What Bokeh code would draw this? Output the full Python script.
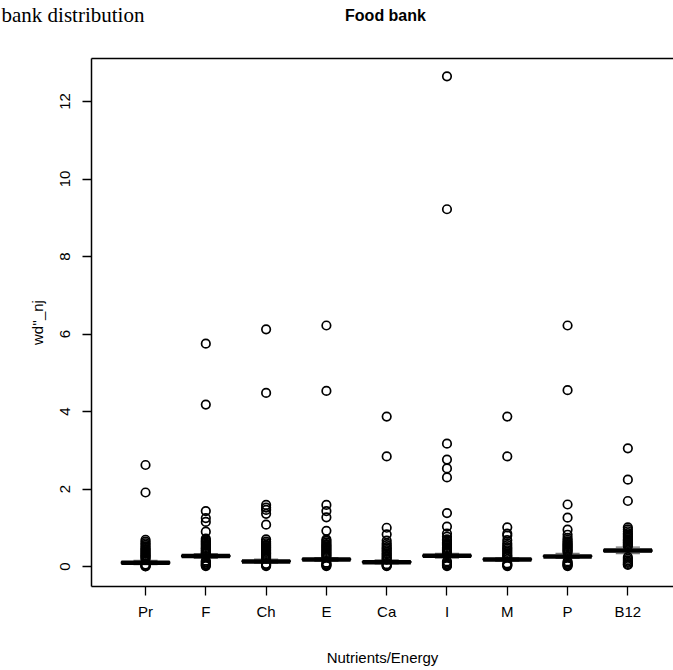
from bokeh.plotting import figure
from bokeh.layouts import column
from bokeh.models import Range1d, FixedTicker, LinearAxis, ColumnDataSource
from bokeh.core.properties import value
from bokeh.embed import file_html
from bokeh.resources import INLINE

# ---------------- data ----------------
categories = ["Pr", "F", "Ch", "E", "Ca", "I", "M", "P", "B12"]
q1 = [0.08, 0.25, 0.12, 0.17, 0.10, 0.26, 0.17, 0.25, 0.39]
medians = [0.10, 0.27, 0.13, 0.18, 0.11, 0.28, 0.18, 0.26, 0.41]
q3 = [0.12, 0.29, 0.15, 0.20, 0.13, 0.30, 0.20, 0.28, 0.43]
whisk_hi = [0.16, 0.33, 0.19, 0.23, 0.17, 0.34, 0.22, 0.34, 0.50]
whisk_lo = [0.05, 0.21, 0.09, 0.13, 0.07, 0.22, 0.13, 0.21, 0.33]

out_Pr = [2.62, 1.91, 0.69, 0.64, 0.60, 0.56, 0.52, 0.48, 0.45, 0.42, 0.39,
          0.36, 0.33, 0.30, 0.28, 0.25, 0.22, 0.19, 0.05, 0.03, 0.02, 0.01, 0.0]
out_F = [5.75, 4.18, 1.43, 1.25, 1.15, 0.90, 0.72, 0.68, 0.65, 0.62, 0.59,
         0.56, 0.53, 0.50, 0.47, 0.45, 0.42, 0.40, 0.37, 0.35, 0.33, 0.15,
         0.12, 0.10, 0.07, 0.05, 0.03, 0.01]
out_Ch = [6.12, 4.48, 1.59, 1.52, 1.46, 1.36, 1.08, 0.70, 0.64, 0.60, 0.56,
          0.53, 0.50, 0.47, 0.44, 0.41, 0.38, 0.35, 0.32, 0.29, 0.26, 0.23,
          0.20, 0.07, 0.05, 0.03, 0.01]
out_E = [6.22, 4.53, 1.59, 1.43, 1.27, 0.92, 0.70, 0.66, 0.62, 0.58, 0.55,
         0.52, 0.49, 0.46, 0.43, 0.40, 0.37, 0.34, 0.31, 0.28, 0.25, 0.10,
         0.07, 0.05, 0.03, 0.01]
out_Ca = [3.87, 2.84, 1.00, 0.83, 0.67, 0.60, 0.55, 0.50, 0.46, 0.42, 0.38,
          0.34, 0.31, 0.27, 0.24, 0.20, 0.18, 0.06, 0.04, 0.02, 0.01]
out_I = [12.65, 9.22, 3.17, 2.76, 2.53, 2.30, 1.38, 1.03, 0.85, 0.77, 0.70,
         0.66, 0.62, 0.59, 0.56, 0.53, 0.50, 0.47, 0.44, 0.41, 0.38, 0.35,
         0.13, 0.10, 0.07, 0.05, 0.03, 0.01]
out_M = [3.87, 2.84, 1.01, 0.85, 0.80, 0.68, 0.60, 0.55, 0.50, 0.46, 0.42,
         0.38, 0.34, 0.30, 0.27, 0.24, 0.08, 0.05, 0.03, 0.01]
out_P = [6.22, 4.55, 1.60, 1.26, 0.95, 0.82, 0.74, 0.69, 0.65, 0.61, 0.58,
         0.55, 0.52, 0.49, 0.46, 0.43, 0.40, 0.37, 0.13, 0.10, 0.07, 0.05,
         0.03, 0.01]
out_B12 = [3.05, 2.24, 1.69, 1.01, 0.96, 0.91, 0.86, 0.82, 0.78, 0.74, 0.70,
           0.67, 0.64, 0.61, 0.58, 0.55, 0.52, 0.24, 0.20, 0.16, 0.12, 0.09,
           0.06, 0.04]
outliers = [out_Pr, out_F, out_Ch, out_E, out_Ca, out_I, out_M, out_P, out_B12]

y_ticks = [0, 2, 4, 6, 8, 10, 12]
title_text = "Food bank"
corner_text = "bank distribution"

# ---------------- layout ----------------
W = 673
TOP_H = 57          # header strip holding the texts above the plot
MAIN_H = 670 - TOP_H
FL, FT, FB = 91, 1, 586 - TOP_H   # frame edges inside the main figure
X0, X1 = 0.104, 9.757
Y0, Y1 = -0.516, 13.11
FONT = "Liberation Sans"

# header strip: a figure whose frame covers the whole strip, 1 unit = 1 px
head = figure(width=W, height=TOP_H, x_range=Range1d(0, W), y_range=Range1d(TOP_H, 0),
              output_backend="svg", toolbar_location=None, title=None,
              x_axis_location=None, y_axis_location=None,
              min_border=0, min_border_left=0, min_border_right=0,
              min_border_top=0, min_border_bottom=0)
head.frame_align = False
head.xgrid.visible = False
head.ygrid.visible = False
head.outline_line_color = None
head.background_fill_color = "white"
head.border_fill_color = "white"
head.text(x=[385], y=[15], text=[title_text], text_align="center",
          text_baseline="alphabetic", text_font=value(FONT),
          text_font_size="16px", text_font_style="bold", text_color="black")
head.text(x=[1], y=[14], text=[corner_text], text_align="left",
          text_baseline="alphabetic", text_font=value("Liberation Serif"),
          text_font_size="21px", text_color="black")

p = figure(width=W, height=MAIN_H, x_range=Range1d(X0, X1), y_range=Range1d(Y0, Y1),
           output_backend="svg", toolbar_location=None, title=None,
           min_border_left=FL, min_border_right=0,
           min_border_top=FT, min_border_bottom=MAIN_H - FB)
p.frame_align = False
p.xgrid.visible = False
p.ygrid.visible = False
p.outline_line_color = None
p.background_fill_color = "white"
p.border_fill_color = "white"

xs = list(range(1, len(categories) + 1))

xa = p.xaxis[0]
xa.ticker = FixedTicker(ticks=xs)
xa.major_label_overrides = {i: c for i, c in zip(xs, categories)}
xa.minor_tick_line_color = None
xa.major_tick_in = 0
xa.major_tick_out = 9
xa.major_tick_line_width = 1.3
xa.axis_line_width = 1.5
xa.major_label_text_font = FONT
xa.major_label_text_font_size = "15px"
xa.major_label_text_color = "black"
xa.major_label_standoff = 7
xa.axis_label = "Nutrients/Energy"
xa.axis_label_text_font = FONT
xa.axis_label_text_font_size = "15px"
xa.axis_label_text_font_style = "normal"
xa.axis_label_text_color = "black"
xa.axis_label_standoff = 26

ya = p.yaxis[0]
ya.ticker = FixedTicker(ticks=y_ticks)
ya.minor_tick_line_color = None
ya.major_tick_in = 0
ya.major_tick_out = 9
ya.major_tick_line_width = 1.3
ya.axis_line_width = 1.5
ya.major_label_orientation = "vertical"
ya.major_label_text_font = FONT
ya.major_label_text_font_size = "15px"
ya.major_label_text_color = "black"
ya.major_label_standoff = 12
ya.axis_label = "wd''_nj"
ya.axis_label_text_font = FONT
ya.axis_label_text_font_size = "15px"
ya.axis_label_text_font_style = "normal"
ya.axis_label_text_color = "black"
ya.axis_label_standoff = 12

top = LinearAxis(ticker=FixedTicker(ticks=[]), major_label_text_font_size="0px",
                 major_tick_line_color=None, minor_tick_line_color=None,
                 major_tick_out=0, major_tick_in=0, major_label_standoff=0,
                 axis_line_width=1.5)
p.add_layout(top, "above")

# boxes
src = ColumnDataSource(dict(
    x=xs, left=[x - 0.4 for x in xs], right=[x + 0.4 for x in xs],
    sl=[x - 0.2 for x in xs], sr=[x + 0.2 for x in xs],
    q1=q1, q3=q3, med=medians, hi=whisk_hi, lo=whisk_lo))
p.segment(x0="x", y0="q3", x1="x", y1="hi", source=src, line_color="black",
          line_width=1, line_dash="4 2")
p.segment(x0="x", y0="lo", x1="x", y1="q1", source=src, line_color="black",
          line_width=1, line_dash="4 2")
p.segment(x0="sl", y0="hi", x1="sr", y1="hi", source=src, line_color="#777777",
          line_width=1.3)
p.segment(x0="sl", y0="lo", x1="sr", y1="lo", source=src, line_color="#777777",
          line_width=1.3)

# outliers
ox, oy = [], []
for x, vals in zip(xs, outliers):
    for v in vals:
        ox.append(x)
        oy.append(v)
p.scatter(ox, oy, marker="circle", size=8.5, fill_color=None,
          line_color="black", line_width=1.7)

p.quad(left="left", right="right", bottom="q1", top="q3", source=src,
       fill_color="black", line_color="black", line_width=1.5)
p.segment(x0="left", y0="med", x1="right", y1="med", source=src,
          line_color="black", line_width=4.5)

layout = column(head, p, spacing=0)
open("out.html", "w").write(file_html(layout, INLINE))
